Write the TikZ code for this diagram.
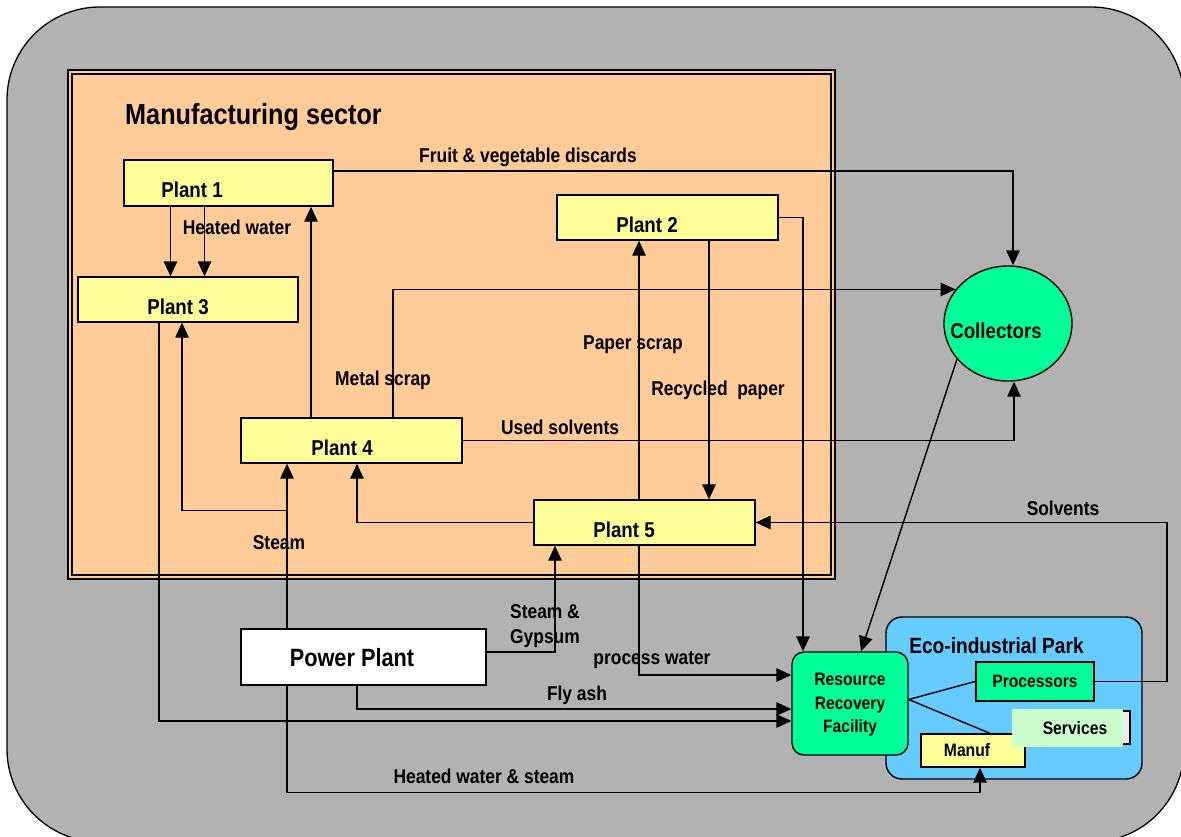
\documentclass[tikz,border=0pt]{standalone}
\usepackage{fontspec}
\setmainfont{Liberation Sans}[FakeStretch=0.87]
\usetikzlibrary{arrows.meta,shapes.geometric}
\definecolor{bggray}{RGB}{178,178,178}
\definecolor{peach}{RGB}{255,204,153}
\definecolor{plantyellow}{RGB}{255,255,153}
\definecolor{recgreen}{RGB}{0,255,153}
\definecolor{parkblue}{RGB}{102,204,255}
\definecolor{servgreen}{RGB}{204,255,204}
\def\lblfont{\fontsize{20}{25}\selectfont\bfseries}
\def\boxfont{\fontsize{18}{23.5}\selectfont\bfseries}
\tikzset{
  plant/.style={draw, line width=1.4pt, fill=plantyellow, minimum width=221pt, minimum height=45pt,
    inner sep=0pt, text height=29pt, text depth=0pt, font=\fontsize{21.5}{26}\selectfont\bfseries},
  recbox/.style={draw, line width=1.4pt, fill=recgreen, inner sep=0pt, font=\boxfont},
  lbl/.style={inner sep=0pt, font=\lblfont},
  flow/.style={line width=1.4pt, -{Triangle[length=15pt,width=13.5pt]}},
  wire/.style={line width=1.4pt}
}

\begin{document}
\begin{tikzpicture}[x=1pt, y=-1pt]
  %%%%% START %%%%%
  \useasboundingbox (0,0) rectangle (1181,836);
  \clip (0,0) rectangle (1181,836);
  \draw[fill=bggray, line width=1.3pt, rounded corners=93pt] (7,7) rectangle (1184,842);

  % manufacturing sector
  \draw[fill=peach, line width=1.6pt] (68,70) rectangle (835,579);
  \draw[line width=1.2pt] (72,74) rectangle (831,575);
  \node[lbl, font=\fontsize{29}{33}\selectfont\bfseries] (mtitle) at (253.5,117) {Manufacturing sector};

  % eco-industrial park
  \node[draw, line width=1.4pt, fill=parkblue, rounded corners=16pt, minimum width=256pt, minimum height=162pt] (eip) at (1014,698) {};
  \node[lbl, font=\fontsize{22}{26}\selectfont\bfseries] (eiptitle) at (996.5,646) {Eco-industrial Park};

  \node[plant, minimum width=209pt, minimum height=46pt] (p1) at (228.5,183) {Plant 1\hspace*{73pt}};
  \node[plant, minimum width=220pt] (p3) at (188,299.5) {Plant 3\hspace*{20pt}};
  \node[plant] (p2) at (667.5,217.5) {Plant 2\hspace*{41pt}};
  \node[plant] (p4) at (351.5,440.5) {Plant 4\hspace*{19pt}};
  \node[plant] (p5) at (644.5,522.5) {Plant 5\hspace*{41pt}};
  \node[plant, fill=white, minimum width=245pt, minimum height=56pt, text height=18pt,
    font=\fontsize{25}{30}\selectfont\bfseries] (pp) at (363.5,657) {Power Plant\hspace*{23pt}};

  \node[recbox, ellipse, minimum width=128pt, minimum height=115pt, text height=29pt, text depth=0pt,
    font=\fontsize{21.5}{26}\selectfont\bfseries] (coll) at (1008,323.5) {\makebox[0pt]{Collectors\hspace*{24pt}}};
  \node[recbox, rounded corners=12pt, minimum width=116pt, minimum height=103pt, align=center] (rrf) at (850,703.5) {\rule{0pt}{15pt}Resource\\Recovery\\Facility};
  \node[recbox, line width=2pt, minimum width=118pt, minimum height=39pt] (proc) at (1035,681.5) {Processors};
  \node[draw, line width=1.4pt, fill=plantyellow, inner sep=0pt, minimum width=104pt, minimum height=33pt, font=\boxfont] (manuf) at (973,750.5) {Manuf\hspace*{12pt}};
  \node[draw, line width=1.4pt, fill=gray!15, minimum width=115pt, minimum height=33pt] (servbg) at (1072.5,727.5) {};
  \node[fill=servgreen, inner sep=0pt, minimum width=111pt, minimum height=38pt, font=\boxfont] (serv) at (1067.5,728) {\hspace*{15pt}Services};

  % flows inside the sector
  \draw[flow] ([yshift=12pt]p1.east) -| ([xshift=5pt]coll.north);
  \draw[flow] ([xshift=-58pt]p1.south) coordinate (hw1) -- (hw1 |- p3.north);
  \draw[flow] ([xshift=-24pt]p1.south) coordinate (hw2) -- (hw2 |- p3.north);
  \draw[flow] ([xshift=-40.5pt]p4.north) coordinate (up1) -- (up1 |- p1.south);
  \draw[flow] ([xshift=41.5pt]p4.north) |- (coll.147.5);
  \draw[flow] (p4.east) -| ([xshift=6pt]coll.south);
  \draw[flow] ([xshift=-5.5pt]p5.north) coordinate (ps) -- (ps |- p2.south);
  \draw[flow] ([xshift=41.5pt]p2.south) coordinate (rp) -- (rp |- p5.north);
  \draw[flow] (p2.east) -| ([xshift=-47pt]rrf.north);
  \draw[flow] (coll.215) -- ([xshift=11pt]rrf.north);
  \draw[flow] (p5.west) -| ([xshift=5.5pt]p4.south);

  % steam from the power plant
  \draw[flow] ([xshift=-76.5pt]pp.north) coordinate (st) -- (st |- p4.south);
  \path (st) ++(0,-118) coordinate (sj);
  \draw[flow] (sj) -| ([xshift=-6pt]p3.south);
  \draw[flow] ([yshift=5pt]pp.east) -| ([xshift=-89.5pt]p5.south);

  % flows to the resource recovery facility
  \draw[flow] ([xshift=-5.5pt]p5.south) |- ([yshift=28.5pt]rrf.west);
  \draw[flow] ([xshift=-6.5pt]pp.south) |- ([yshift=-5.5pt]rrf.west);
  \draw[flow] ([xshift=-29pt]p3.south) |- ([yshift=-17.5pt]rrf.west);
  \draw[flow] ([xshift=-76.5pt]pp.south) -- ++(0,107) -| ([xshift=7pt]manuf.south);

  % park links
  \draw[wire] ([yshift=4pt]rrf.east) -- (proc.west);
  \draw[wire] ([yshift=4pt]rrf.east) -- ([xshift=17pt]manuf.north);
  \draw[flow] (proc.east) -- ++(72,0) |- (p5.east);

  % labels
  \node[lbl] (lfruit) at (528,157) {Fruit \& vegetable discards};
  \node[lbl] (lheat) at (237,227) {Heated water};
  \node[lbl] (lmetal) at (383,380) {Metal scrap};
  \node[lbl] (lpaper) at (633,345) {Paper scrap};
  \node[lbl] (lrecyc) at (718,390) {Recycled~ paper};
  \node[lbl] (lsolv) at (560,427) {Used solvents};
  \node[lbl] (lsteam) at (279,543) {Steam};
  \node[lbl, align=left, anchor=west] (lgyp) at (510,626) {Steam \&\\Gypsum};
  \node[lbl] (lproc) at (652,660) {process water};
  \node[lbl] (lfly) at (577,695) {Fly ash};
  \node[lbl] (lhws) at (484,776) {Heated water \& steam};
  \node[lbl] (lsolvents) at (1063,508) {Solvents};
  %%%%% END %%%%%
\end{tikzpicture}
\end{document}
